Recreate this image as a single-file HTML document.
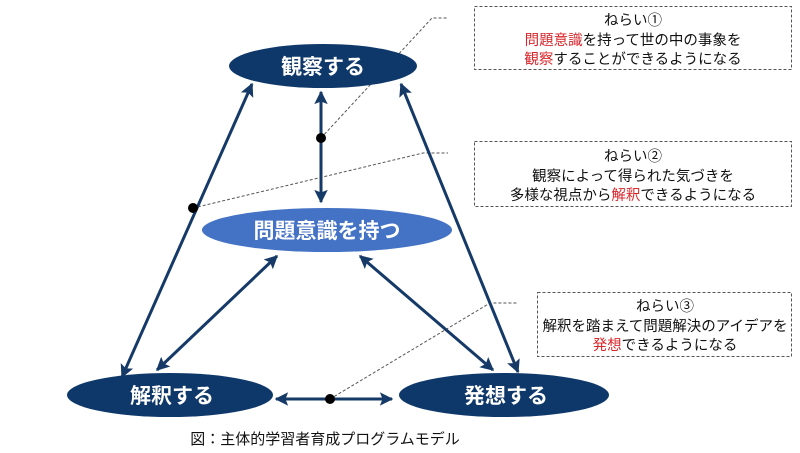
<!DOCTYPE html>
<html><head><meta charset="utf-8"><style>
html,body{margin:0;padding:0;background:#fff;width:800px;height:453px;overflow:hidden}
</style></head><body>
<svg width="800" height="453" viewBox="0 0 800 453" xmlns="http://www.w3.org/2000/svg" font-family="Liberation Sans, Noto Sans CJK JP, sans-serif">
<defs>
<marker id="a" viewBox="0 0 10 10" refX="9" refY="5" markerWidth="4.5" markerHeight="4.5" orient="auto-start-reverse" markerUnits="strokeWidth">
<path d="M0,0 L10,5 L0,10 L2,5 z" fill="#163a68"/></marker>
</defs>
<g stroke="#555" stroke-width="1" stroke-dasharray="3,2" fill="none">
<polyline points="321,138 432,18 448,18"/>
<polyline points="193,208 423,153 448,153"/>
<polyline points="330,399 490,303 517,303"/>
</g>
<g stroke="#163a68" stroke-width="3" fill="none" marker-start="url(#a)" marker-end="url(#a)">
<line x1="321" y1="92" x2="321" y2="202"/>
<line x1="252" y1="84" x2="122" y2="377"/>
<line x1="401" y1="84" x2="518" y2="372"/>
<line x1="277" y1="256" x2="157" y2="370"/>
<line x1="360" y1="256" x2="493" y2="370"/>
<line x1="276" y1="399" x2="392" y2="399"/>
</g>
<circle cx="321" cy="138" r="5" fill="#000"/>
<circle cx="193" cy="208" r="5" fill="#000"/>
<circle cx="330" cy="399" r="5" fill="#000"/>
<ellipse cx="323" cy="66" rx="94" ry="22" fill="#0f386a"/>
<ellipse cx="327" cy="230" rx="125" ry="22" fill="#4472c4"/>
<ellipse cx="170" cy="395" rx="103" ry="22" fill="#0f386a"/>
<ellipse cx="504" cy="395" rx="105" ry="22" fill="#0f386a"/>
<g fill="#fff" font-weight="bold" font-size="21" text-anchor="middle">
<text x="323" y="74">観察する</text>
<text x="327" y="238">問題意識を持つ</text>
<text x="172" y="403">解釈する</text>
<text x="506" y="403">発想する</text>
</g>
<g fill="none" stroke="#555" stroke-width="1" stroke-dasharray="3,2">
<rect x="474.5" y="6.5" width="317" height="63"/>
<rect x="474.5" y="141.5" width="317" height="65"/>
<rect x="537.5" y="292.5" width="254" height="64"/>
</g>
<g font-size="14.5" fill="#111" text-anchor="middle">
<text x="633" y="25">ねらい①</text>
<text x="633" y="45"><tspan fill="#d9262a">問題意識</tspan>を持って世の中の事象を</text>
<text x="633" y="64"><tspan fill="#d9262a">観察</tspan>することができるようになる</text>
<text x="633" y="161">ねらい②</text>
<text x="633" y="181">観察によって得られた気づきを</text>
<text x="633" y="200">多様な視点から<tspan fill="#d9262a">解釈</tspan>できるようになる</text>
<text x="665" y="311">ねらい③</text>
<text x="665" y="331">解釈を踏まえて問題解決のアイデアを</text>
<text x="665" y="350"><tspan fill="#d9262a">発想</tspan>できるようになる</text>
</g>
<text x="325" y="444" font-size="15" fill="#111" text-anchor="middle">図：主体的学習者育成プログラムモデル</text>
</svg>
</body></html>
